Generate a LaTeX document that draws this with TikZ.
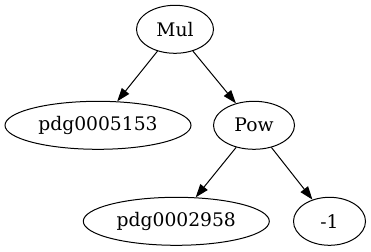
\documentclass[tikz,border=0pt]{standalone}
\usepackage{fontspec}
\setmainfont{DejaVu Serif}
\usetikzlibrary{shapes.geometric,arrows.meta}
\tikzset{
  term/.style={draw=black, ellipse, line width=1pt, minimum height=48pt, minimum width=#1, inner sep=0pt, font=\fontsize{18.7}{22}\selectfont},
  term/.default={72pt},
  arrow/.style={-{Triangle[length=13.3pt, width=9.3pt]}, line width=1pt, draw=black}
}
\begin{document}
\begin{tikzpicture}[x=1pt,y=-1pt]
  \useasboundingbox (0,0) rectangle (371,251);
  \node[term=77pt] (mul) at (175,29.3) {Mul};
  \node[term=186pt] (pdg5153) at (98,125.3) {pdg0005153};
  \node[term=81pt] (pow) at (254,125.3) {Pow};
  \node[term=186pt] (pdg2958) at (176.3,221.3) {pdg0002958};
  \node[term=72pt] (neg1) at (329.5,221.3) {-1};
  \draw[arrow] (mul) -- (pdg5153);
  \draw[arrow] (mul) -- (pow);
  \draw[arrow] (pow) -- (pdg2958);
  \draw[arrow] (pow) -- (neg1);
\end{tikzpicture}
\end{document}
